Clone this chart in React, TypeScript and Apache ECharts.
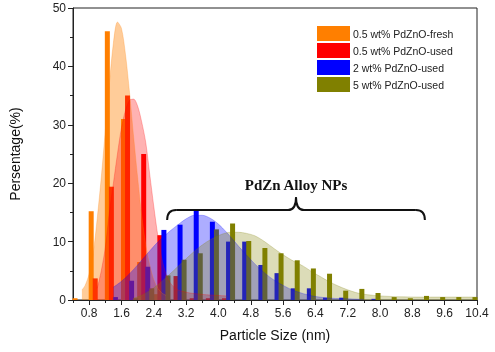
import React, { useEffect, useRef } from "react";
import * as echarts from "echarts";

const seriesNames = ["0.5 wt% PdZnO-fresh", "0.5 wt% PdZnO-used", "2 wt% PdZnO-used", "5 wt% PdZnO-used"];
const barColors = ["#ff7f00", "#ff0000", "#0000ff", "#808000"];
const fillColors = ["rgba(255,127,0,0.4)", "rgba(255,0,0,0.3)", "rgba(0,0,255,0.32)", "rgba(128,128,0,0.28)"];

const orangeBars = [[0.45, 0.3], [0.85, 15.2], [1.25, 46], [1.65, 31], [2.05, 6.5], [2.45, 1.0]];
const redBars = [[0.95, 3.7], [1.35, 19.4], [1.75, 35], [2.15, 25], [2.55, 11.1], [2.95, 4.1], [3.35, 0.3], [3.75, 0.3], [4.15, 0.3]];
const blueBars = [[1.45, 0.5], [1.85, 3.3], [2.25, 5.7], [2.65, 12], [3.05, 12.9], [3.45, 15.5], [3.85, 13.4], [4.25, 10], [4.65, 10], [5.05, 6], [5.45, 4.6], [5.85, 2.0], [6.25, 2.0], [6.65, 0.4], [7.05, 0.4], [7.85, 0.2]];
const oliveBars = [[1.95, 0.3], [2.35, 2.0], [2.75, 4.2], [3.15, 6.9], [3.55, 8.0], [3.95, 12.1], [4.35, 13.1], [4.75, 10.1], [5.15, 8.9], [5.55, 8.0], [5.95, 6.8], [6.35, 5.4], [6.75, 4.5], [7.15, 1.6], [7.55, 1.9], [7.95, 1.2], [8.35, 0.5], [8.75, 0.3], [9.15, 0.7], [9.55, 0.5], [9.95, 0.5], [10.35, 0.5]];

const orangeFit = [[0.62, 1.7], [0.7, 2.5], [0.8, 4.5], [0.9, 8], [1.0, 14], [1.1, 21], [1.2, 29], [1.3, 37], [1.4, 44], [1.5, 47.6], [1.6, 46.5], [1.7, 42], [1.8, 35.5], [1.9, 28], [2.0, 21], [2.1, 14.5], [2.2, 9.5], [2.3, 6], [2.4, 3.5], [2.5, 2], [2.6, 1.2], [2.7, 0.8]];
const redFit = [[1.0, 2], [1.1, 5], [1.2, 9], [1.3, 15], [1.4, 20], [1.5, 25], [1.6, 29.5], [1.7, 32.5], [1.8, 34.2], [1.9, 34.4], [2.0, 33.2], [2.1, 30.5], [2.2, 27], [2.3, 21.5], [2.4, 16], [2.5, 11], [2.6, 7], [2.7, 4.5], [2.8, 3], [2.9, 2.2], [3.0, 1.7], [3.3, 1.2], [3.7, 0.9], [4.2, 0.7]];
const blueFit = [[1.4, 2.2], [1.6, 3.2], [1.8, 4.5], [2.0, 6], [2.2, 7.6], [2.4, 9.2], [2.6, 10.6], [2.8, 11.8], [3.0, 12.9], [3.2, 13.9], [3.4, 14.5], [3.6, 14.5], [3.8, 14], [4.0, 13], [4.2, 11.6], [4.4, 10], [4.6, 8.4], [4.8, 6.9], [5.0, 5.5], [5.2, 4.3], [5.4, 3.3], [5.6, 2.5], [5.8, 1.8], [6.0, 1.3], [6.2, 0.9], [6.4, 0.6], [6.8, 0.3], [7.2, 0.2], [7.6, 0.1]];
const oliveFit = [[1.9, 0.3], [2.1, 0.8], [2.3, 1.6], [2.5, 2.6], [2.7, 3.8], [2.9, 5.1], [3.1, 6.4], [3.3, 7.7], [3.5, 8.9], [3.7, 9.9], [3.9, 10.7], [4.1, 11.3], [4.3, 11.6], [4.5, 11.6], [4.7, 11.4], [4.9, 11], [5.1, 10.2], [5.3, 9.2], [5.5, 8.2], [5.7, 7.3], [5.9, 6.5], [6.1, 5.8], [6.3, 4.9], [6.5, 4.1], [6.7, 3.3], [6.9, 2.6], [7.1, 2.0], [7.3, 1.5], [7.5, 1.1], [7.7, 0.9], [8.0, 0.7], [8.5, 0.55], [9.0, 0.5], [10.0, 0.5], [10.4, 0.5]];

const xMajorTicks = [0.8, 1.6, 2.4, 3.2, 4.0, 4.8, 5.6, 6.4, 7.2, 8.0, 8.8, 9.6, 10.4];
const xMinorTicks = [0.4, 1.2, 2.0, 2.8, 3.6, 4.4, 5.2, 6.0, 6.8, 7.6, 8.4, 9.2, 10.0];

const annotationText = "PdZn Alloy NPs";
const braceX = [2.73, 5.92, 9.11];
const braceY = [13.7, 15.4, 17.6, 19.7];

const sansFont = "'Liberation Sans', Arial, sans-serif";

export default function App() {
  const ref = useRef<HTMLDivElement>(null);
  useEffect(() => {
    if (!ref.current) return;
    const chart = echarts.init(ref.current, null, { renderer: "svg" });
    const bars = [orangeBars, redBars, blueBars, oliveBars];
    const fits = [orangeFit, redFit, blueFit, oliveFit];
    const barSeries = bars.map((d, i) => ({
      type: "bar",
      name: seriesNames[i],
      data: d,
      barWidth: 5,
      barGap: "-100%",
      itemStyle: { color: barColors[i] },
      xAxisIndex: 0,
    }));
    const fitSeries = fits.map((d, i) => ({
      type: "line",
      name: "fit" + i,
      data: d,
      smooth: 0.3,
      symbol: "none",
      xAxisIndex: 0,
      lineStyle: { color: barColors[i], width: 1, opacity: 0.25 },
      areaStyle: { color: fillColors[i], opacity: 1 },
    }));
    const tickFmt = (v: number) => v.toFixed(1);
    chart.setOption({
      animation: false,
      grid: { left: 73, right: 18, top: 8, bottom: 52, show: true, borderColor: "#222", borderWidth: 1, backgroundColor: "transparent" },
      legend: {
        data: seriesNames,
        orient: "vertical",
        left: 317,
        top: 26,
        itemWidth: 33,
        itemHeight: 15,
        itemGap: 2,
        icon: "rect",
        padding: 0,
        textStyle: { fontSize: 10.5, color: "#222", fontFamily: sansFont, padding: [0, 0, 0, -2] },
      },
      xAxis: [
        {
          type: "value",
          min: 0.4,
          max: 10.4,
          name: "Particle Size (nm)",
          nameLocation: "middle",
          nameGap: 28,
          nameTextStyle: { fontSize: 14, color: "#111", fontFamily: sansFont },
          axisLine: { show: true, onZero: false, lineStyle: { color: "#222" } },
          axisTick: { show: true, length: 5, customValues: xMajorTicks, lineStyle: { color: "#222" } },
          axisLabel: { customValues: xMajorTicks, formatter: tickFmt, fontSize: 12, color: "#222", fontFamily: sansFont, margin: 7 },
          splitLine: { show: false },
        },
        {
          type: "value",
          min: 0.4,
          max: 10.4,
          position: "bottom",
          axisLine: { show: false },
          axisTick: { show: true, length: 3, customValues: xMinorTicks, lineStyle: { color: "#222" } },
          axisLabel: { show: false },
          splitLine: { show: false },
        },
      ],
      yAxis: {
        type: "value",
        min: 0,
        max: 50,
        interval: 10,
        name: "Persentage(%)",
        nameLocation: "middle",
        nameGap: 51,
        nameTextStyle: { fontSize: 14, color: "#111", fontFamily: sansFont },
        axisLine: { show: true, lineStyle: { color: "#222" } },
        axisTick: { show: true, length: 5, lineStyle: { color: "#222" } },
        minorTick: { show: true, splitNumber: 2, length: 3, lineStyle: { color: "#222" } },
        axisLabel: { fontSize: 12, color: "#222", fontFamily: sansFont, margin: 7 },
        splitLine: { show: false },
        minorSplitLine: { show: false },
      },
      series: [...barSeries, ...fitSeries],
    });

    const p = (x: number, y: number) => chart.convertToPixel({ gridIndex: 0 }, [x, y]) as number[];
    const [xL, yTip] = p(braceX[0], braceY[0]);
    const [xM, yT] = p(braceX[1], braceY[1]);
    const [xR] = p(braceX[2], braceY[1]);
    const [, yPeak] = p(braceX[1], braceY[2]);
    const [, yText] = p(braceX[1], braceY[3]);
    const st = { stroke: "#111", lineWidth: 2, fill: null };
    const r = 9;
    chart.setOption({
      graphic: [
        { type: "bezierCurve", shape: { x1: xL, y1: yTip, cpx1: xL, cpy1: yT, x2: xL + r, y2: yT }, style: st, z: 100 },
        { type: "line", shape: { x1: xL + r, y1: yT, x2: xM - 8, y2: yT }, style: st, z: 100 },
        { type: "bezierCurve", shape: { x1: xM - 8, y1: yT, cpx1: xM, cpy1: yT, x2: xM, y2: yPeak }, style: st, z: 100 },
        { type: "bezierCurve", shape: { x1: xM, y1: yPeak, cpx1: xM, cpy1: yT, x2: xM + 8, y2: yT }, style: st, z: 100 },
        { type: "line", shape: { x1: xM + 8, y1: yT, x2: xR - r, y2: yT }, style: st, z: 100 },
        { type: "bezierCurve", shape: { x1: xR - r, y1: yT, cpx1: xR, cpy1: yT, x2: xR, y2: yTip }, style: st, z: 100 },
        {
          type: "text",
          x: xM,
          y: yText,
          z: 100,
          style: {
            text: annotationText,
            align: "center",
            verticalAlign: "middle",
            font: "bold 15px 'Liberation Serif', 'Times New Roman', serif",
            fill: "#111",
          },
        },
      ],
    });
    return () => chart.dispose();
  }, []);
  return <div ref={ref} style={{ position: "fixed", left: 0, top: 0, width: 495, height: 352 }} />;
}
